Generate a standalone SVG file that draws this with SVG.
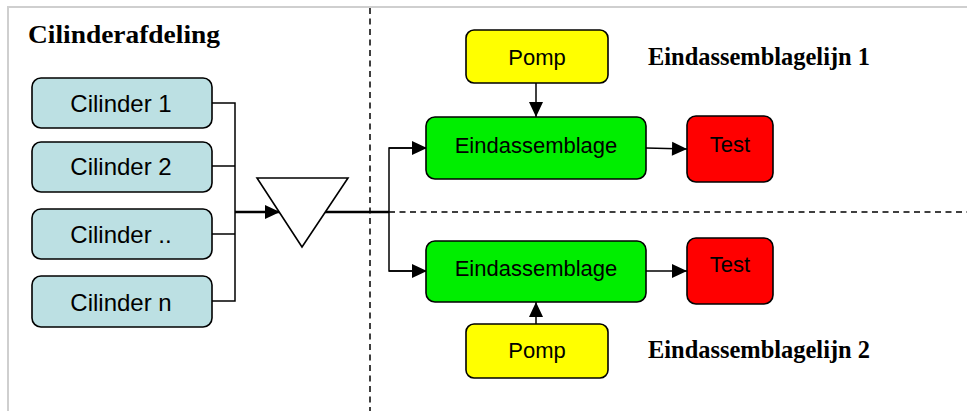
<svg xmlns="http://www.w3.org/2000/svg" width="967" height="411" viewBox="0 0 967 411">
  <style>
    .box { stroke: #000; stroke-width: 1.6; }
    .cyl { fill: #bce0e3; }
    .pomp { fill: #ffff00; }
    .eind { fill: #00ee00; }
    .test { fill: #ff0000; }
    .lbl { font-family: "Liberation Sans", Arial, sans-serif; font-size: 22px; fill: #000; text-anchor: middle; }
    .cyl-lbl { font-size: 24px; }
    .title { font-family: "Liberation Serif", "Times New Roman", serif; font-weight: bold; font-size: 26px; fill: #000; }
    .wire { fill: none; stroke: #000; stroke-width: 1.5; }
    .thick { stroke-width: 2.4; }
    .dash { fill: none; stroke: #000; stroke-width: 1.5; stroke-dasharray: 6 4.5; }
    .frame { fill: none; stroke: #cfcfcf; stroke-width: 2; }
  </style>
  <defs>
    <marker id="arrow" markerUnits="userSpaceOnUse" markerWidth="17" markerHeight="17" viewBox="0 0 17 17" refX="16" refY="8.5" orient="auto">
      <path d="M1,1.5 L16,8.5 L1,15.5 Z" fill="#000"/>
    </marker>
  </defs>

  <rect width="967" height="411" fill="#fff"/>
  <!-- page frame (top and left edges) -->
  <polyline class="frame" points="967,7 8,7 8,411"/>

  <!-- section dividers -->
  <g id="dividers">
    <line class="dash" x1="370" y1="8" x2="370" y2="411"/>
    <line class="dash" x1="389" y1="212" x2="967" y2="212"/>
  </g>

  <!-- titles -->
  <g id="titles">
    <text class="title" x="28" y="43" textLength="192" lengthAdjust="spacingAndGlyphs">Cilinderafdeling</text>
    <text class="title" x="648" y="65" textLength="222" lengthAdjust="spacingAndGlyphs">Eindassemblagelijn 1</text>
    <text class="title" x="648" y="358" textLength="222" lengthAdjust="spacingAndGlyphs">Eindassemblagelijn 2</text>
  </g>

  <!-- connectors -->
  <g id="connectors">
    <polyline class="wire" points="212,103 235,103 235,301 212,301"/>
    <line class="wire" x1="212" y1="166" x2="235" y2="166"/>
    <line class="wire" x1="212" y1="234" x2="235" y2="234"/>
    <line class="wire thick" x1="235" y1="212" x2="280" y2="212" marker-end="url(#arrow)"/>
    <line class="wire thick" x1="325" y1="212" x2="389" y2="212"/>
    <polyline class="wire" points="427,148 389,148 389,271 427,271"/>
    <line class="wire" x1="389" y1="148" x2="427" y2="148" marker-end="url(#arrow)"/>
    <line class="wire" x1="389" y1="271" x2="427" y2="271" marker-end="url(#arrow)"/>
    <line class="wire" x1="536" y1="83" x2="536" y2="117" marker-end="url(#arrow)"/>
    <line class="wire" x1="536" y1="324" x2="536" y2="302" marker-end="url(#arrow)"/>
    <line class="wire" x1="646" y1="148" x2="687" y2="149" marker-end="url(#arrow)"/>
    <line class="wire" x1="646" y1="271" x2="687" y2="271" marker-end="url(#arrow)"/>
  </g>

  <!-- cylinder line -->
  <g id="cilinder-1">
    <rect class="box cyl" x="32" y="78" width="180" height="50" rx="9"/>
    <text class="lbl cyl-lbl" x="121" y="112">Cilinder 1</text>
  </g>
  <g id="cilinder-2">
    <rect class="box cyl" x="32" y="142" width="180" height="50" rx="9"/>
    <text class="lbl cyl-lbl" x="121" y="175">Cilinder 2</text>
  </g>
  <g id="cilinder-dots">
    <rect class="box cyl" x="32" y="209" width="180" height="50" rx="9"/>
    <text class="lbl cyl-lbl" x="121" y="243">Cilinder ..</text>
  </g>
  <g id="cilinder-n">
    <rect class="box cyl" x="32" y="276" width="180" height="51" rx="9"/>
    <text class="lbl cyl-lbl" x="121" y="311">Cilinder n</text>
  </g>

  <!-- buffer -->
  <g id="buffer">
    <polygon points="257,178 348,178 302,247" fill="#fff" stroke="#000" stroke-width="1.6"/>
  </g>

  <!-- final assembly line 1 -->
  <g id="pomp-1">
    <rect class="box pomp" x="466" y="30" width="142" height="53" rx="8"/>
    <text class="lbl" x="537" y="65">Pomp</text>
  </g>
  <g id="eindassemblage-1">
    <rect class="box eind" x="426" y="117" width="220" height="62" rx="9"/>
    <text class="lbl" x="536" y="153">Eindassemblage</text>
  </g>
  <g id="test-1">
    <rect class="box test" x="687" y="116" width="86" height="66" rx="9"/>
    <text class="lbl" x="730" y="152">Test</text>
  </g>

  <!-- final assembly line 2 -->
  <g id="eindassemblage-2">
    <rect class="box eind" x="426" y="241" width="220" height="61" rx="9"/>
    <text class="lbl" x="536" y="276">Eindassemblage</text>
  </g>
  <g id="test-2">
    <rect class="box test" x="687" y="238" width="86" height="66" rx="9"/>
    <text class="lbl" x="730" y="272">Test</text>
  </g>
  <g id="pomp-2">
    <rect class="box pomp" x="466" y="324" width="142" height="54" rx="8"/>
    <text class="lbl" x="537" y="358">Pomp</text>
  </g>
</svg>
